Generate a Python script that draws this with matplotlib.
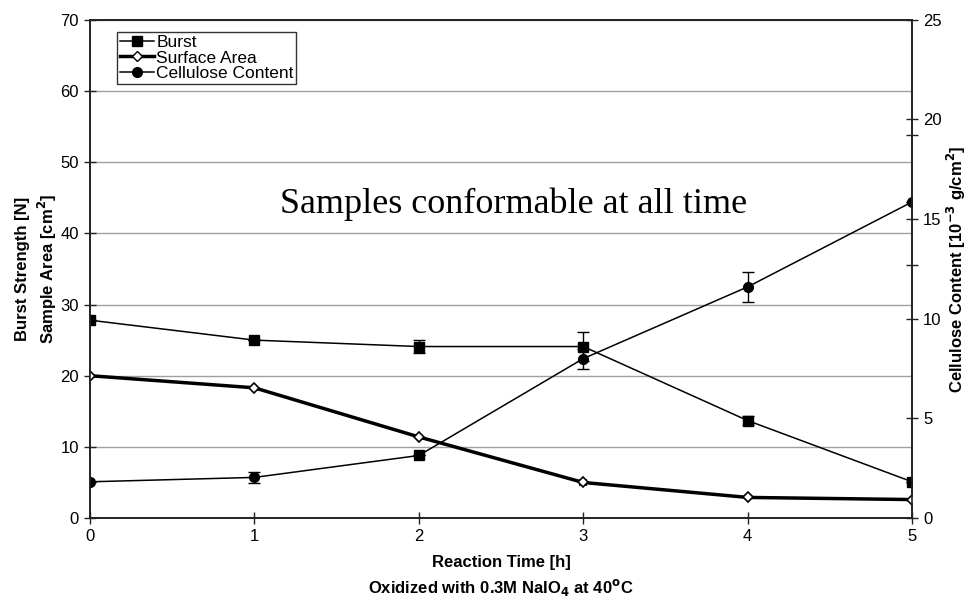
import matplotlib
matplotlib.use("Agg")
import matplotlib.pyplot as plt
from matplotlib.lines import Line2D

plt.rcParams['font.family'] = ['Liberation Sans', 'DejaVu Sans']

# data
hours = [0, 1, 2, 3, 4, 5]
burst = [27.8, 25.0, 24.1, 24.1, 13.7, 5.1]
burst_err = [0, 0, 0.9, 2.0, 0.6, 0]
area = [20.0, 18.3, 11.4, 5.0, 2.9, 2.6]
area_err = [0, 0, 0, 0.3, 0, 0]
cellulose = [1.82, 2.04, 3.14, 8.0, 11.6, 15.86]      # 10^-3 g/cm^2, right axis
cellulose_err = [0, 0.27, 0, 0.5, 0.75, 0]

left_ticks = [0, 10, 20, 30, 40, 50, 60, 70]
right_ticks = [0, 5, 10, 15, 20, 25]
right_extra = [12.7, 19.2]

fig = plt.figure(figsize=(9.72, 6.01), dpi=100)
ax = fig.add_axes([0.0926, 0.138, 0.8457, 0.829])
ax2 = ax.twinx()

# left axis: burst + surface area
ax.errorbar(hours, burst, yerr=burst_err, color='black', lw=1.1, marker='s',
            ms=7, capsize=4, elinewidth=1, zorder=3)
ax.errorbar(hours, area, yerr=area_err, color='black', lw=2.5, marker='D',
            ms=5, mfc='white', mec='black', mew=1.2, capsize=3, elinewidth=1,
            zorder=3)

# right axis: cellulose (the 2 h point is drawn as a square in the original)
ax2.errorbar(hours, cellulose, yerr=cellulose_err, color='black', lw=1.1,
             marker='o', ms=7, capsize=4, elinewidth=1, ls='-',
             markevery=[0, 1, 3, 4, 5])
ax2.plot(hours[2:3], cellulose[2:3], 's', color='black', ms=7)

ax.set_xlim(0, 5)
ax.set_ylim(0, 70)
ax2.set_ylim(0, 25)
ax.set_xticks(hours)
ax.set_yticks(left_ticks)
ax2.set_yticks(right_ticks)
ax2.set_yticks(right_extra, minor=True)

ax.grid(axis='y', color='#a0a0a0', lw=1)
ax.set_axisbelow(True)

for a in (ax, ax2):
    for s in a.spines.values():
        s.set_color('#222222')
        s.set_linewidth(1.2)
ax.tick_params(axis='both', direction='inout', length=9, width=1, labelsize=12,
               color='#222222')
ax2.tick_params(axis='y', which='both', direction='inout', length=9, width=1,
                labelsize=12, color='#222222')

ax.set_ylabel('Burst Strength [N]\nSample Area [cm$^{\\mathbf{2}}$]',
              fontsize=12, fontweight='bold', labelpad=1, linespacing=1.3)
ax2.set_ylabel('Cellulose Content [10$^{\\mathbf{-3}}$ g/cm$^{\\mathbf{2}}$]',
               fontsize=12, fontweight='bold', labelpad=2)
ax.set_xlabel('Reaction Time [h]\nOxidized with 0.3M NaIO$_{\\mathbf{4}}$ at 40$^{\\mathbf{o}}$C',
              fontsize=12, fontweight='bold', labelpad=8, linespacing=1.45)

ax.text(0.515, 0.63, 'Samples conformable at all time', transform=ax.transAxes,
        ha='center', va='center', fontsize=26, family='Liberation Serif')

handles = [
    Line2D([], [], color='black', lw=1.1, marker='s', ms=7),
    Line2D([], [], color='black', lw=2.5, marker='D', ms=5, mfc='white', mec='black'),
    Line2D([], [], color='black', lw=1.1, marker='o', ms=7),
]
labels = ['Burst', 'Surface Area', 'Cellulose Content']
leg = ax2.legend(handles, labels, loc='upper left', bbox_to_anchor=(0.033, 0.975),
                 fontsize=12.5, frameon=True, fancybox=False, borderpad=0.15,
                 handlelength=2.0, handletextpad=0.1, labelspacing=0.02,
                 borderaxespad=0)
leg.get_frame().set_edgecolor('black')
leg.get_frame().set_linewidth(1)

fig.savefig('out.png', dpi=100)
